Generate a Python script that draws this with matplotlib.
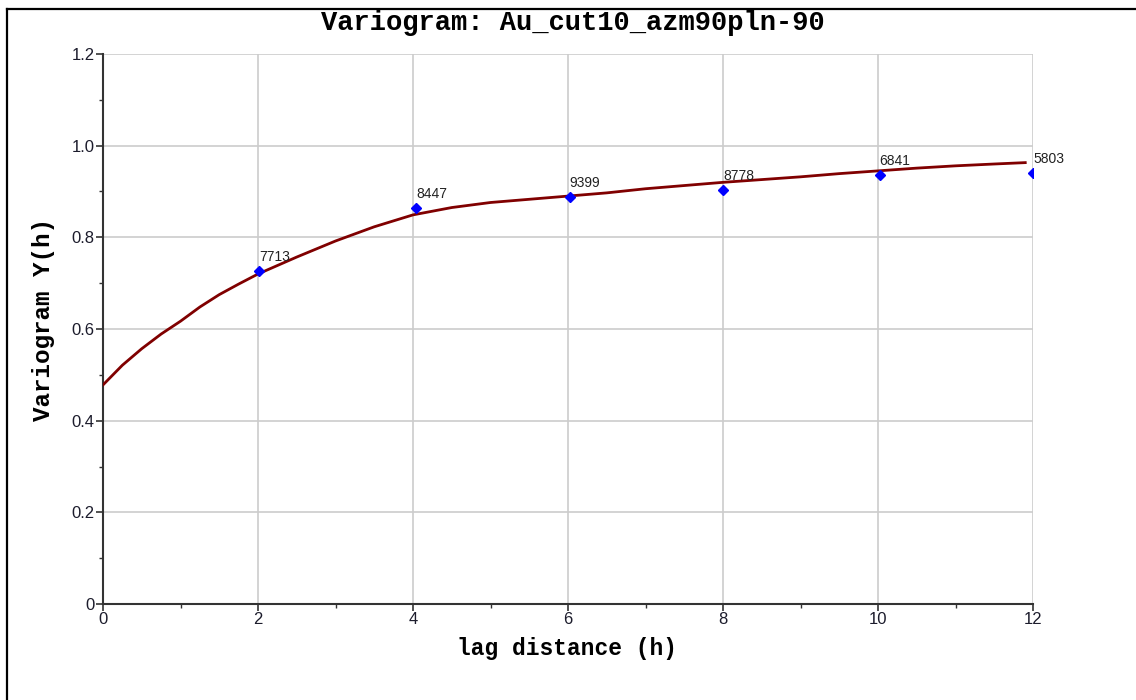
import matplotlib
matplotlib.use("Agg")
import matplotlib.pyplot as plt
from matplotlib.lines import Line2D
from matplotlib.ticker import MultipleLocator, FuncFormatter

# Experimental variogram: lag distance, gamma value, pair count
lag = [2.01, 4.04, 6.02, 8.00, 10.02, 12.00]
gamma = [0.727, 0.864, 0.888, 0.903, 0.936, 0.940]
pairs = ["7713", "8447", "9399", "8778", "6841", "5803"]

# Fitted model curve
model_h = [0.0, 0.25, 0.5, 0.75, 1.0, 1.25, 1.5, 1.75, 2.0, 2.5, 3.0, 3.5, 4.0,
           4.5, 5.0, 5.5, 6.0, 6.5, 7.0, 7.5, 8.0, 8.5, 9.0, 9.5, 10.0,
           10.5, 11.0, 11.5, 11.9]
model_g = [0.478, 0.521, 0.557, 0.589, 0.617, 0.648, 0.675, 0.698, 0.720,
           0.757, 0.792, 0.823, 0.849, 0.865, 0.876, 0.883, 0.890, 0.897,
           0.906, 0.913, 0.920, 0.926, 0.932, 0.939, 0.945, 0.951, 0.956,
           0.960, 0.963]

title = "Variogram: Au_cut10_azm90pln-90"
xlabel = "lag distance (h)"
ylabel = "Variogram Y(h)"

mono = "Liberation Mono"
sans = "Liberation Sans"

W, H = 1136, 700
fig = plt.figure(figsize=(W / 100, H / 100), dpi=100)
fig.patch.set_facecolor("white")
ax = fig.add_axes([103 / W, 1 - 604 / H, 930 / W, 550 / H])

ax.set_xlim(0, 12)
ax.set_ylim(0, 1.2)

ax.xaxis.set_major_locator(MultipleLocator(2))
ax.xaxis.set_minor_locator(MultipleLocator(1))
ax.yaxis.set_major_locator(MultipleLocator(0.2))
ax.yaxis.set_minor_locator(MultipleLocator(0.1))
ax.yaxis.set_major_formatter(FuncFormatter(lambda v, p: "0" if abs(v) < 1e-9 else f"{v:.1f}"))
ax.xaxis.set_major_formatter(FuncFormatter(lambda v, p: f"{v:.0f}"))

ax.grid(True, which="major", color="#cccccc", linewidth=1.2)
ax.set_axisbelow(True)

for side in ("top", "right"):
    ax.spines[side].set_visible(False)
for side in ("left", "bottom"):
    ax.spines[side].set_color("#333333")
    ax.spines[side].set_linewidth(1.5)

ax.tick_params(which="major", direction="out", length=5, width=1.2,
               color="#333333", labelsize=12, labelcolor="#1c1c2c", pad=1)
ax.tick_params(which="minor", direction="out", length=3, width=1.0, color="#333333")
for lbl in ax.get_xticklabels() + ax.get_yticklabels():
    lbl.set_fontfamily(sans)

ax.plot(model_h, model_g, color="#800000", linewidth=2.0, zorder=3)
ax.plot(lag, gamma, linestyle="none", marker="D", markersize=5.5,
        color="#0000ff", zorder=4)
for x, y, n in zip(lag, gamma, pairs):
    ax.annotate(n, (x, y), xytext=(0, 5), textcoords="offset points",
                ha="left", va="bottom", fontsize=10, fontfamily=sans,
                color="#222222", annotation_clip=False, zorder=5)

fig.text(567 / W, 1 - 648 / H, xlabel, ha="center", va="center",
         fontfamily=mono, fontweight="bold", fontsize=16.5)
fig.text(44 / W, 1 - 320 / H, ylabel, ha="center", va="center", rotation=90,
         fontfamily=mono, fontweight="bold", fontsize=17.5)
fig.text(573 / W, 1 - 23 / H, title, ha="center", va="center",
         fontfamily=mono, fontweight="bold", fontsize=19.5)

# outer frame lines along the top and left edges
fig.add_artist(Line2D([7 / W, 7 / W], [0, 1 - 9 / H],
                      transform=fig.transFigure, color="black", linewidth=1.6))
fig.add_artist(Line2D([7 / W, 1], [1 - 9 / H, 1 - 9 / H],
                      transform=fig.transFigure, color="black", linewidth=1.6))

fig.savefig("out.png", dpi=100, facecolor="white")
